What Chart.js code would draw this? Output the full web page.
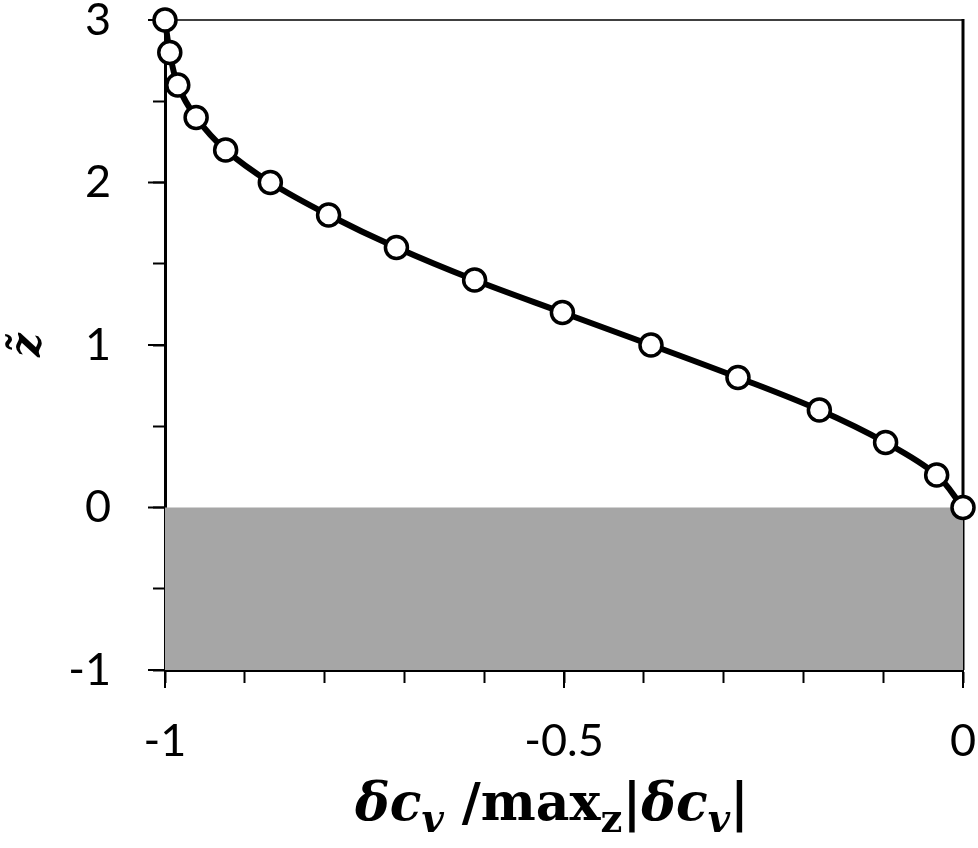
<!DOCTYPE html>
<html>
<head>
<meta charset="utf-8">
<script src="https://cdn.jsdelivr.net/npm/chart.js@4"></script>
<style>
  html, body { margin: 0; padding: 0; background: #fff; }
  #wrap { position: relative; width: 978px; height: 848px; }
  #xtitle {
    position: absolute; left: 0; width: 978px; top: 776px; text-align: center;
    font-family: "DejaVu Serif", "Liberation Serif", serif; font-weight: bold;
    font-size: 52px; color: #000; line-height: 1; padding-left: 126px; box-sizing: border-box;
  }
  #xtitle sub { font-size: 74%; vertical-align: -0.3em; }
</style>
</head>
<body>
<div id="wrap">
  <canvas id="c" width="978" height="848"></canvas>
  <div id="xtitle"><i>δc</i><sub><i>v</i></sub> /max<sub>z</sub>|<i>δc</i><sub><i>v</i></sub>|</div>
</div>
<script>
const zValues = [3, 2.8, 2.6, 2.4, 2.2, 2.0, 1.8, 1.6, 1.4, 1.2, 1.0, 0.8, 0.6, 0.4, 0.2, 0];
const dcValues = [-1.0, -0.994, -0.984, -0.961, -0.924, -0.868, -0.795, -0.710, -0.612, -0.502, -0.391, -0.282, -0.180, -0.097, -0.033, 0];
const shadeX = [-1, 0];
const shadeTop = 0;
const xMin = -1, xMax = 0, yMin = -1, yMax = 3;
const xMajorTicks = [-1, -0.5, 0];
const yMajorTicks = [-1, 0, 1, 2, 3];
const yTitle = 'z\u0303';

const tickFont = { family: "'Lato', sans-serif", size: 45 };

const frame = {
  id: 'frame',
  beforeDatasetsDraw(chart) {
    const { ctx, chartArea: a } = chart;
    ctx.save();
    ctx.strokeStyle = '#000';
    ctx.lineWidth = 1.5;
    ctx.beginPath(); ctx.moveTo(a.left, a.top); ctx.lineTo(a.right, a.top); ctx.stroke();
    ctx.lineWidth = 3;
    ctx.beginPath(); ctx.moveTo(a.right, a.top - 1); ctx.lineTo(a.right, a.bottom); ctx.stroke();
    const xs = chart.scales.x, ys = chart.scales.y;
    ctx.lineWidth = 2;
    xMajorTicks.forEach(v => {
      const px = xs.getPixelForValue(v);
      ctx.beginPath(); ctx.moveTo(px, a.bottom); ctx.lineTo(px, a.bottom + 18); ctx.stroke();
    });
    yMajorTicks.forEach(v => {
      const py = ys.getPixelForValue(v);
      ctx.beginPath(); ctx.moveTo(a.left, py); ctx.lineTo(a.left - 17, py); ctx.stroke();
    });
    ctx.restore();
  }
};

new Chart(document.getElementById('c'), {
  type: 'line',
  data: {
    datasets: [
      {
        data: shadeX.map(x => ({ x: x, y: shadeTop })),
        borderWidth: 0,
        borderColor: 'rgba(0,0,0,0)',
        backgroundColor: '#a6a6a6',
        fill: 'start',
        pointRadius: 0,
        order: 2
      },
      {
        data: dcValues.map((x, i) => ({ x: x, y: zValues[i] })),
        borderColor: '#000',
        borderWidth: 6,
        tension: 0.35,
        fill: false,
        pointRadius: 11,
        pointBorderWidth: 3.5,
        pointBackgroundColor: '#fff',
        pointBorderColor: '#000',
        order: 1
      }
    ]
  },
  options: {
    responsive: false,
    animation: false,
    clip: false,
    layout: { padding: { top: 20, right: 15, left: 0, bottom: 0 } },
    plugins: { legend: { display: false }, tooltip: { enabled: false } },
    scales: {
      x: {
        type: 'linear', min: xMin, max: xMax,
        afterFit(s) { s.height = 178; s.paddingLeft = 0; s.paddingRight = 0; },
        ticks: {
          stepSize: 0.1, autoSkip: false, maxRotation: 0, color: '#000', font: tickFont, padding: 31,
          callback(v) {
            const h = v * 2;
            if (Math.abs(h - Math.round(h)) < 1e-6) return String(Math.round(h) / 2);
            return '';
          }
        },
        grid: { drawOnChartArea: false, drawTicks: true, tickLength: 13, tickWidth: 2, tickColor: '#000' },
        border: { display: true, color: '#000', width: 3 }
      },
      y: {
        type: 'linear', min: yMin, max: yMax,
        afterFit(s) { s.width = 165; s.paddingTop = 0; s.paddingBottom = 0; },
        ticks: {
          stepSize: 0.5, autoSkip: false, color: '#000', font: tickFont, padding: 42,
          callback(v) {
            if (Math.abs(v - Math.round(v)) < 1e-6) return String(Math.round(v));
            return '';
          }
        },
        grid: { drawOnChartArea: false, drawTicks: true, tickLength: 12, tickWidth: 2, tickColor: '#000' },
        border: { display: true, color: '#000', width: 3 },
        title: {
          display: true, text: yTitle, color: '#000', padding: { top: 4, bottom: 0 },
          font: { family: "'DejaVu Serif', 'Liberation Serif', serif", size: 42, weight: 'bold', style: 'italic' }
        }
      }
    }
  },
  plugins: [frame]
});
</script>
</body>
</html>
